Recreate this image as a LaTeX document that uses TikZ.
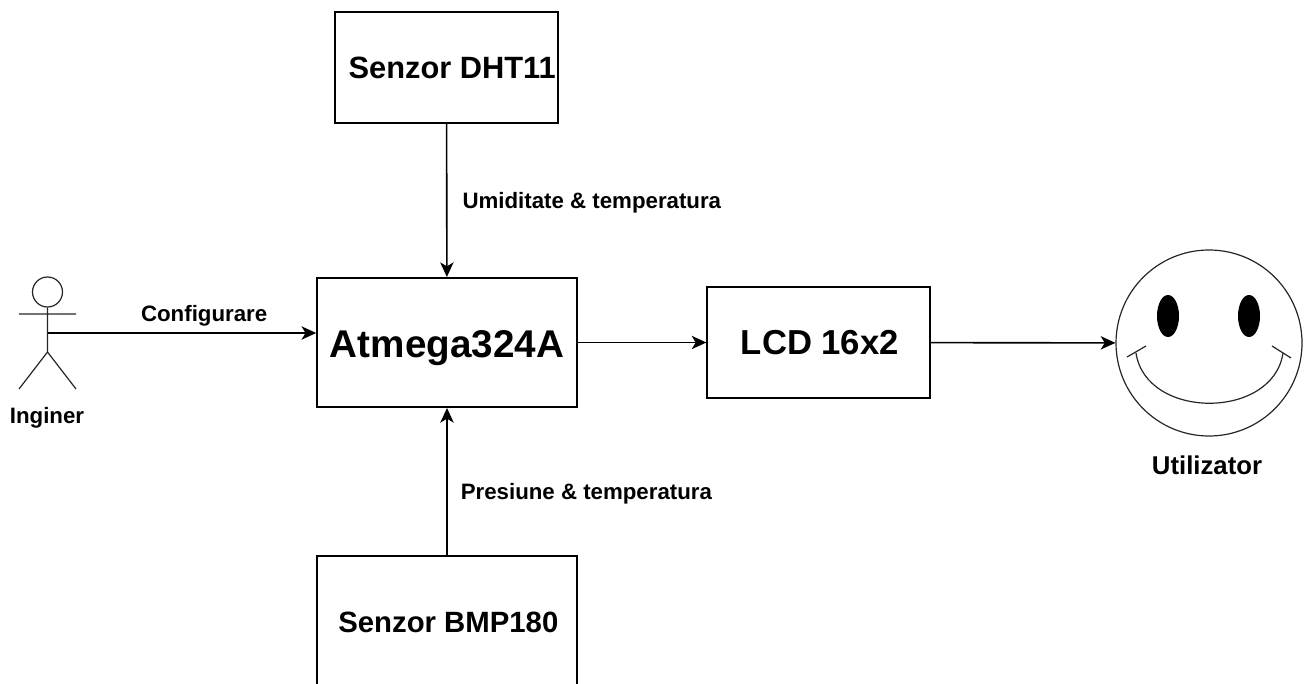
\documentclass[tikz,border=0pt]{standalone}
\usepackage{fontspec}
\setmainfont{Liberation Sans}
\usetikzlibrary{arrows.meta,shapes.geometric}

\begin{document}
\begin{tikzpicture}[x=0.75pt,y=-0.75pt,>={Stealth[length=11pt,width=10pt,inset=3pt]},line width=1.2pt,
  main node/.style={rectangle,draw,inner sep=0pt,font=\bfseries},
  edge label/.style={inner sep=0pt,font=\fontsize{16.7}{20}\selectfont\bfseries},
  eye node/.style={ellipse,fill=black,inner sep=0pt,minimum width=16.5pt,minimum height=31.5pt},
  thin line/.style={line width=0.9pt,draw=black!85}]

  \useasboundingbox (0,0) rectangle (1305,684);
  \clip (0,0) rectangle (1305,684);

  % blocks
  \node[main node,minimum width=167pt,minimum height=83pt,font=\fontsize{23.1}{26}\selectfont\bfseries] (dht) at (446.5,67.5) {\hspace*{8.5pt}Senzor DHT11};
  \node[main node,minimum width=195pt,minimum height=97pt,text height=28pt,text depth=6pt,font=\fontsize{29}{34}\selectfont\bfseries] (atm) at (447,342.5) {Atmega324A};
  \node[main node,minimum width=167pt,minimum height=83pt,font=\fontsize{26}{30}\selectfont\bfseries] (lcd) at (818.5,342.5) {\hspace*{2pt}LCD 16x2};
  \node[main node,minimum width=195pt,minimum height=99pt,font=\fontsize{22}{26}\selectfont\bfseries] (bmp) at (447,622) {\hspace*{2pt}Senzor BMP180};

  % actor
  \node[circle,draw,thin line,inner sep=0pt,minimum size=22.5pt] (head) at (47.5,292) {};
  \coordinate (hip) at (47.5,333);
  \coordinate (crotch) at (47.5,352);
  \coordinate (handl) at (19,314);
  \coordinate (handr) at (76,314);
  \coordinate (footl) at (19,389);
  \coordinate (footr) at (76,389);
  \draw[thin line] (head) -- (crotch) (handl) -- (handr) (footl) -- (crotch) -- (footr);
  \node[edge label] (inginer) at (47,418) {Inginer};

  % face
  \node[circle,draw,thin line,inner sep=0pt,minimum size=139.5pt] (face) at (1209,343) {};
  \node[eye node] (eyel) at (1168,316) {};
  \node[eye node] (eyer) at (1249,316) {};
  \coordinate (smilel) at (1136,353);
  \coordinate (smiler) at (1283,353);
  \draw[thin line] (smilel) .. controls (1146,420) and (1273,420) .. (smiler);
  \draw[thin line] (1127,357) -- (1146,346) (1272,346) -- (1291,358);
  \node[inner sep=0pt,font=\fontsize{19.3}{23}\selectfont\bfseries] (utilizator) at (1207,465) {Utilizator};

  % connectors
  \draw[->] (dht) -- node[edge label,pos=0.5,right=11.25pt,yshift=-1.5pt] (umid) {Umiditate \& temperatura} (atm);
  \draw[->] (bmp) -- node[edge label,pos=0.43,right=9.75pt,yshift=-1.5pt] (pres) {Presiune \& temperatura} (atm);
  \draw[->] (hip) -- node[edge label,pos=0.583,above=4.5pt] (conf) {Configurare} (hip -| atm.west);
  \draw[->] (atm) -- (lcd);
  \draw[->] (lcd) -- (face);
\end{tikzpicture}
\end{document}
